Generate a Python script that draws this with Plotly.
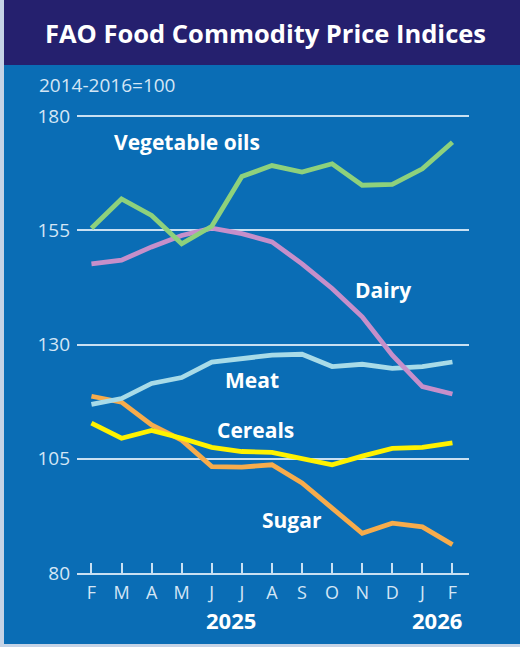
import plotly.graph_objects as go

months = ["F", "M", "A", "M", "J", "J", "A", "S", "O", "N", "D", "J", "F"]
vegetable_oils = [155.5, 161.9, 158.3, 152.1, 155.9, 166.8, 169.2, 167.8, 169.6, 164.9, 165.1, 168.5, 174.3]
dairy = [147.7, 148.5, 151.4, 153.9, 155.5, 154.3, 152.5, 147.7, 142.3, 136.1, 127.7, 120.8, 119.2]
meat = [116.9, 118.2, 121.5, 122.8, 126.2, 127.0, 127.7, 127.9, 125.2, 125.7, 124.8, 125.2, 126.2]
cereals = [112.8, 109.5, 111.2, 109.5, 107.5, 106.6, 106.4, 105.1, 103.7, 105.6, 107.3, 107.5, 108.5]
sugar = [118.7, 117.4, 112.4, 109.1, 103.3, 103.2, 103.7, 99.7, 94.2, 88.7, 90.9, 90.1, 86.2]
y_ticks = [80, 105, 130, 155, 180]
years = ["2025", "2026"]

x = list(range(len(months)))

W, H = 520, 647
ML, MR, MT, MB = 77, 51, 114, 74
PW, PH = W - ML - MR, H - MT - MB

NAVY = "#25206e"
BLUE = "#0a6db5"
GRID = "#c9e0f2"
TICKTXT = "#d4e6f5"
FONT = "Open Sans"


def px_to_paper(px, py):
    return (px - ML) / PW, (H - MB - py) / PH


series = [
    ("Sugar", sugar, "#f7ac4c"),
    ("Meat", meat, "#a8dbe8"),
    ("Dairy", dairy, "#c68fca"),
    ("Vegetable oils", vegetable_oils, "#8ed17c"),
    ("Cereals", cereals, "#fff200"),
]

fig = go.Figure()
for name, vals, col in series:
    fig.add_trace(go.Scatter(x=x, y=vals, mode="lines", name=name,
                             line=dict(color=col, width=4.8), hoverinfo="skip"))

label_px = {
    "Vegetable oils": (187, 142),
    "Dairy": (383, 290),
    "Meat": (252, 380),
    "Cereals": (255, 430),
    "Sugar": (292, 520),
}
annotations = []
for name, (lx, ly) in label_px.items():
    ax_, ay_ = px_to_paper(lx, ly)
    annotations.append(dict(x=ax_, y=ay_, xref="paper", yref="paper", text="<b>" + name + "</b>",
                            showarrow=False, xanchor="center", yanchor="middle",
                            font=dict(family=FONT, size=21, color="white")))

for yr, px in zip(years, [231, 437]):
    ax_, ay_ = px_to_paper(px, 620)
    annotations.append(dict(x=ax_, y=ay_, xref="paper", yref="paper",
                            text="<b>" + yr + "</b>", showarrow=False,
                            xanchor="center", yanchor="middle",
                            font=dict(family=FONT, size=22, color="white")))

ax_, ay_ = px_to_paper(37, 85)
annotations.append(dict(x=ax_, y=ay_, xref="paper", yref="paper",
                        text="2014-2016=100", showarrow=False, xanchor="left", yanchor="middle",
                        font=dict(family=FONT, size=19, color=TICKTXT)))
ax_, ay_ = px_to_paper(265, 33)
annotations.append(dict(x=ax_, y=ay_, xref="paper", yref="paper",
                        text="<b>FAO Food Commodity Price Indices</b>", showarrow=False,
                        xanchor="center", yanchor="middle",
                        font=dict(family=FONT, size=25.5, color="white")))

x0p, _ = px_to_paper(0, 0)
x1p, _ = px_to_paper(W, 0)
_, ytop = px_to_paper(0, 0)
_, yband = px_to_paper(0, 65)
_, ybot = px_to_paper(0, H)
xs1, _ = px_to_paper(4, 0)
_, yb1 = px_to_paper(0, H - 3)

shapes = [
    dict(type="rect", xref="paper", yref="paper", x0=x0p, x1=x1p, y0=yband, y1=ytop,
         fillcolor=NAVY, line=dict(width=0), layer="below"),
    dict(type="rect", xref="paper", yref="paper", x0=x0p, x1=xs1, y0=ybot, y1=ytop,
         fillcolor="#c5d3e6", line=dict(width=0), layer="below"),
    dict(type="rect", xref="paper", yref="paper", x0=x0p, x1=x1p, y0=ybot, y1=yb1,
         fillcolor="#c5d3e6", line=dict(width=0), layer="below"),
]

fig.update_layout(
    width=W, height=H,
    margin=dict(l=ML, r=MR, t=MT, b=MB),
    paper_bgcolor=BLUE, plot_bgcolor=BLUE,
    showlegend=False,
    annotations=annotations,
    shapes=shapes,
    xaxis=dict(range=[-0.48, 12.55], tickvals=x, ticktext=months, showgrid=False,
               zeroline=False, showline=True, linecolor=GRID, linewidth=2,
               ticks="inside", ticklen=10, tickwidth=2, tickcolor=GRID,
               tickfont=dict(family=FONT, size=18, color=TICKTXT), ticklabelstandoff=2,
               fixedrange=True),
    yaxis=dict(range=[80, 180.5], tickvals=y_ticks, showgrid=True, gridcolor=GRID, gridwidth=2,
               zeroline=False, showline=False, ticks="",
               tickfont=dict(family=FONT, size=19, color=TICKTXT), ticklabelstandoff=6,
               fixedrange=True),
)

fig.write_html("out.html", config={"displayModeBar": False},
               post_script="document.body.style.margin='0px';")
